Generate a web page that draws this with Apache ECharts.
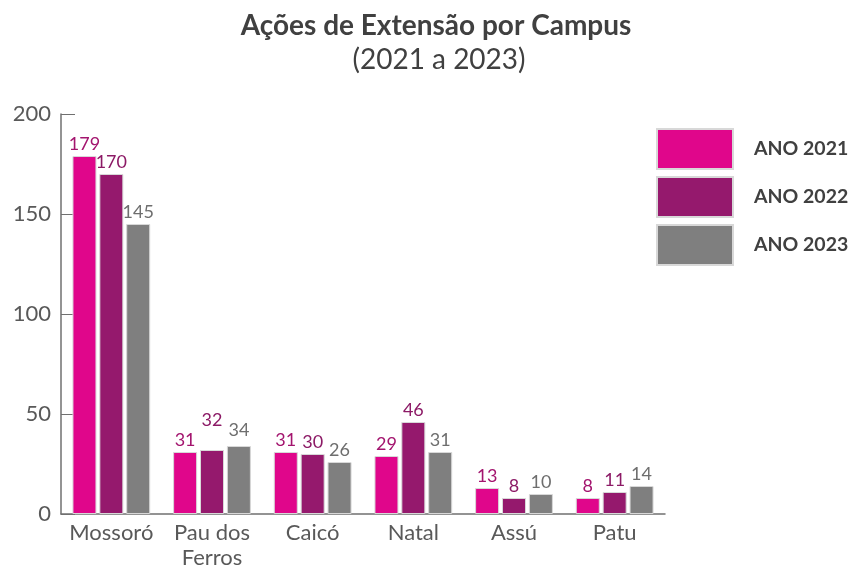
<!DOCTYPE html>
<html>
<head>
<meta charset="utf-8">
<script src="https://cdn.jsdelivr.net/npm/echarts@6/dist/echarts.min.js"></script>
<style>
  html, body { margin: 0; padding: 0; background: #fff; }
  #chart { width: 851px; height: 567px; }
</style>
</head>
<body>
<div id="chart"></div>
<script>
const campus = ['Mossoró', 'Pau dos\nFerros', 'Caicó', 'Natal', 'Assú', 'Patu']
const anos = ['ANO 2021', 'ANO 2022', 'ANO 2023']
const acoes2021 = [179, 31, 31, 29, 13, 8]
const acoes2022 = [170, 32, 30, 46, 8, 11]
const acoes2023 = [145, 34, 26, 31, 10, 14]
const yTicks = [0, 50, 100, 150, 200]

const barColors = ['#e0068b', '#95196d', '#7f7f7f']
const labelColors = ['#a3146e', '#8c1a66', '#6e6e6e']

const makeSeries = (name, values, i) => ({
  name,
  type: 'bar',
  barWidth: 24,
  barGap: '12%',
  barCategoryGap: '22%',
  itemStyle: {
    color: barColors[i],
    borderColor: '#d8d8d8',
    borderWidth: 1
  },
  label: {
    show: true,
    position: 'top',
    distance: 3,
    color: labelColors[i],
    fontFamily: 'Lato',
    fontSize: 18
  },
  data: values.map((v, k) => {
    // the 2022 label over Pau dos Ferros sits higher in the original
    if (i === 1 && k === 1) return {value: v, label: {offset: [0, -18]}}
    if (i === 2 && k === 1) return {value: v, label: {offset: [0, -4]}}
    return v
  })
})

const chart = echarts.init(document.getElementById('chart'))
chart.setOption({
  animation: false,
  textStyle: {fontFamily: 'Lato'},
  title: [
    {
      text: 'Ações de Extensão por Campus',
      left: 431,
      top: 7,
      textAlign: 'center',
      textStyle: {fontFamily: 'Lato', fontSize: 28, fontWeight: 'bold', color: '#404040'}
    },
    {
      text: '(2021 a 2023)',
      left: 434,
      top: 41,
      textAlign: 'center',
      textStyle: {fontFamily: 'Lato', fontSize: 28, fontWeight: 'normal', color: '#404040'}
    }
  ],
  legend: {
    orient: 'vertical',
    left: 651,
    top: 123,
    itemWidth: 76,
    itemHeight: 40,
    itemGap: 6,
    icon: 'rect',
    data: anos,
    textStyle: {fontFamily: 'Lato', fontSize: 19.5, fontWeight: 'bold', color: '#404040', padding: [0, 0, 0, 16], lineHeight: 20}
  },
  grid: {
    left: 61,
    right: 186,
    top: 114,
    bottom: 53,
    outerBoundsMode: 'none',
    containLabel: false
  },
  xAxis: {
    type: 'category',
    data: campus,
    axisLine: {lineStyle: {color: '#707070', width: 1.5}},
    axisTick: {
      inside: true,
      length: 7,
      lineStyle: {color: '#b8ccb8'}
    },
    axisLabel: {
      color: '#595959',
      fontSize: 22,
      lineHeight: 25,
      margin: 6,
      interval: 0
    }
  },
  yAxis: {
    type: 'value',
    min: yTicks[0],
    max: yTicks[yTicks.length - 1],
    interval: 50,
    splitLine: {show: false},
    axisLine: {show: true, lineStyle: {color: '#707070', width: 1.5}},
    axisTick: {show: true, inside: true, length: 14, lineStyle: {color: '#707070'}},
    axisLabel: {color: '#595959', fontSize: 22, margin: 10}
  },
  series: [
    makeSeries(anos[0], acoes2021, 0),
    makeSeries(anos[1], acoes2022, 1),
    makeSeries(anos[2], acoes2023, 2)
  ]
})
</script>
</body>
</html>
